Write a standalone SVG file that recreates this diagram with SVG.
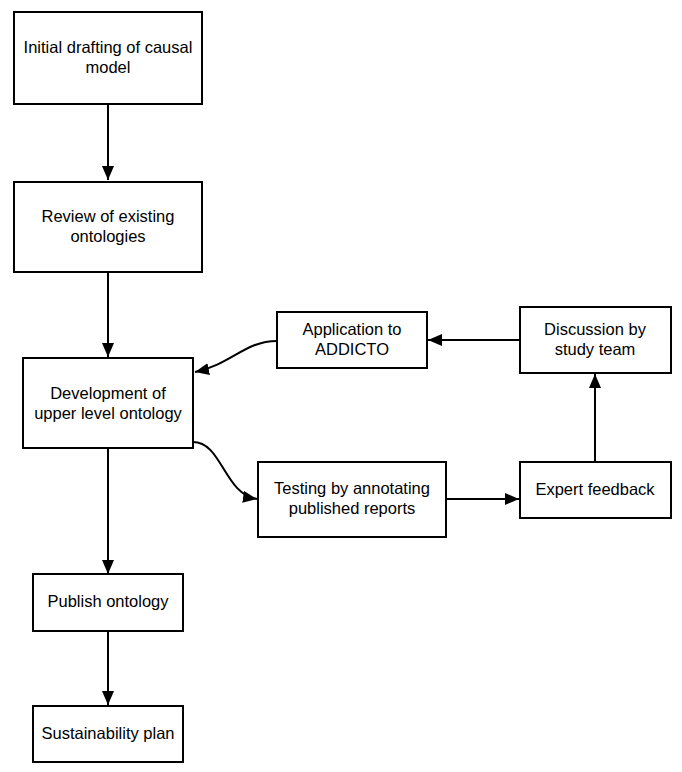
<svg xmlns="http://www.w3.org/2000/svg" width="682" height="772" viewBox="0 0 682 772">
<defs>
<style>
.box{fill:#fff;stroke:#000;stroke-width:2}
.lbl{font-family:"Liberation Sans",Arial,sans-serif;font-size:16.5px;fill:#000;text-anchor:middle;dominant-baseline:central}
.edge{fill:none;stroke:#000;stroke-width:2;marker-end:url(#arr)}
</style>
<marker id="arr" markerUnits="userSpaceOnUse" markerWidth="14" markerHeight="12" refX="14" refY="6" orient="auto">
<path d="M0,0 L14,6 L0,12 z" fill="#000"/>
</marker>
</defs>
<rect width="682" height="772" fill="#fff"/>
<g id="connectors">
<path class="edge" d="M108,104 L108,180"/>
<path class="edge" d="M108,272 L108,357"/>
<path class="edge" d="M108,448 L108,574"/>
<path class="edge" d="M108,631 L108,705"/>
<path class="edge" d="M277,341 C245,341 232,364 195,372"/>
<path class="edge" d="M193,442 C222,442 224,494 257,499"/>
<path class="edge" d="M446,499 L519,499"/>
<path class="edge" d="M595,462 L595,374"/>
<path class="edge" d="M520,340 L428,340"/>
</g>
<g id="n1"><rect class="box" x="14" y="12" width="188" height="92"/><text class="lbl" x="108" y="47">Initial drafting of causal</text><text class="lbl" x="108" y="67">model</text></g>
<g id="n2"><rect class="box" x="14" y="182" width="188" height="90"/><text class="lbl" x="108" y="216">Review of existing</text><text class="lbl" x="108" y="236">ontologies</text></g>
<g id="n3"><rect class="box" x="23" y="358" width="170" height="90"/><text class="lbl" x="108" y="393">Development of</text><text class="lbl" x="108" y="413">upper level ontology</text></g>
<g id="n4"><rect class="box" x="277" y="312" width="150" height="56"/><text class="lbl" x="352" y="329">Application to</text><text class="lbl" x="352" y="349">ADDICTO</text></g>
<g id="n5"><rect class="box" x="520" y="307" width="151" height="66"/><text class="lbl" x="595" y="329">Discussion by</text><text class="lbl" x="595" y="349">study team</text></g>
<g id="n6"><rect class="box" x="258" y="462" width="188" height="75"/><text class="lbl" x="352" y="488">Testing by annotating</text><text class="lbl" x="352" y="508">published reports</text></g>
<g id="n7"><rect class="box" x="520" y="462" width="151" height="56"/><text class="lbl" x="595" y="489">Expert feedback</text></g>
<g id="n8"><rect class="box" x="33" y="574" width="150" height="57"/><text class="lbl" x="108" y="601">Publish ontology</text></g>
<g id="n9"><rect class="box" x="33" y="706" width="150" height="56"/><text class="lbl" x="108" y="733">Sustainability plan</text></g>
</svg>
